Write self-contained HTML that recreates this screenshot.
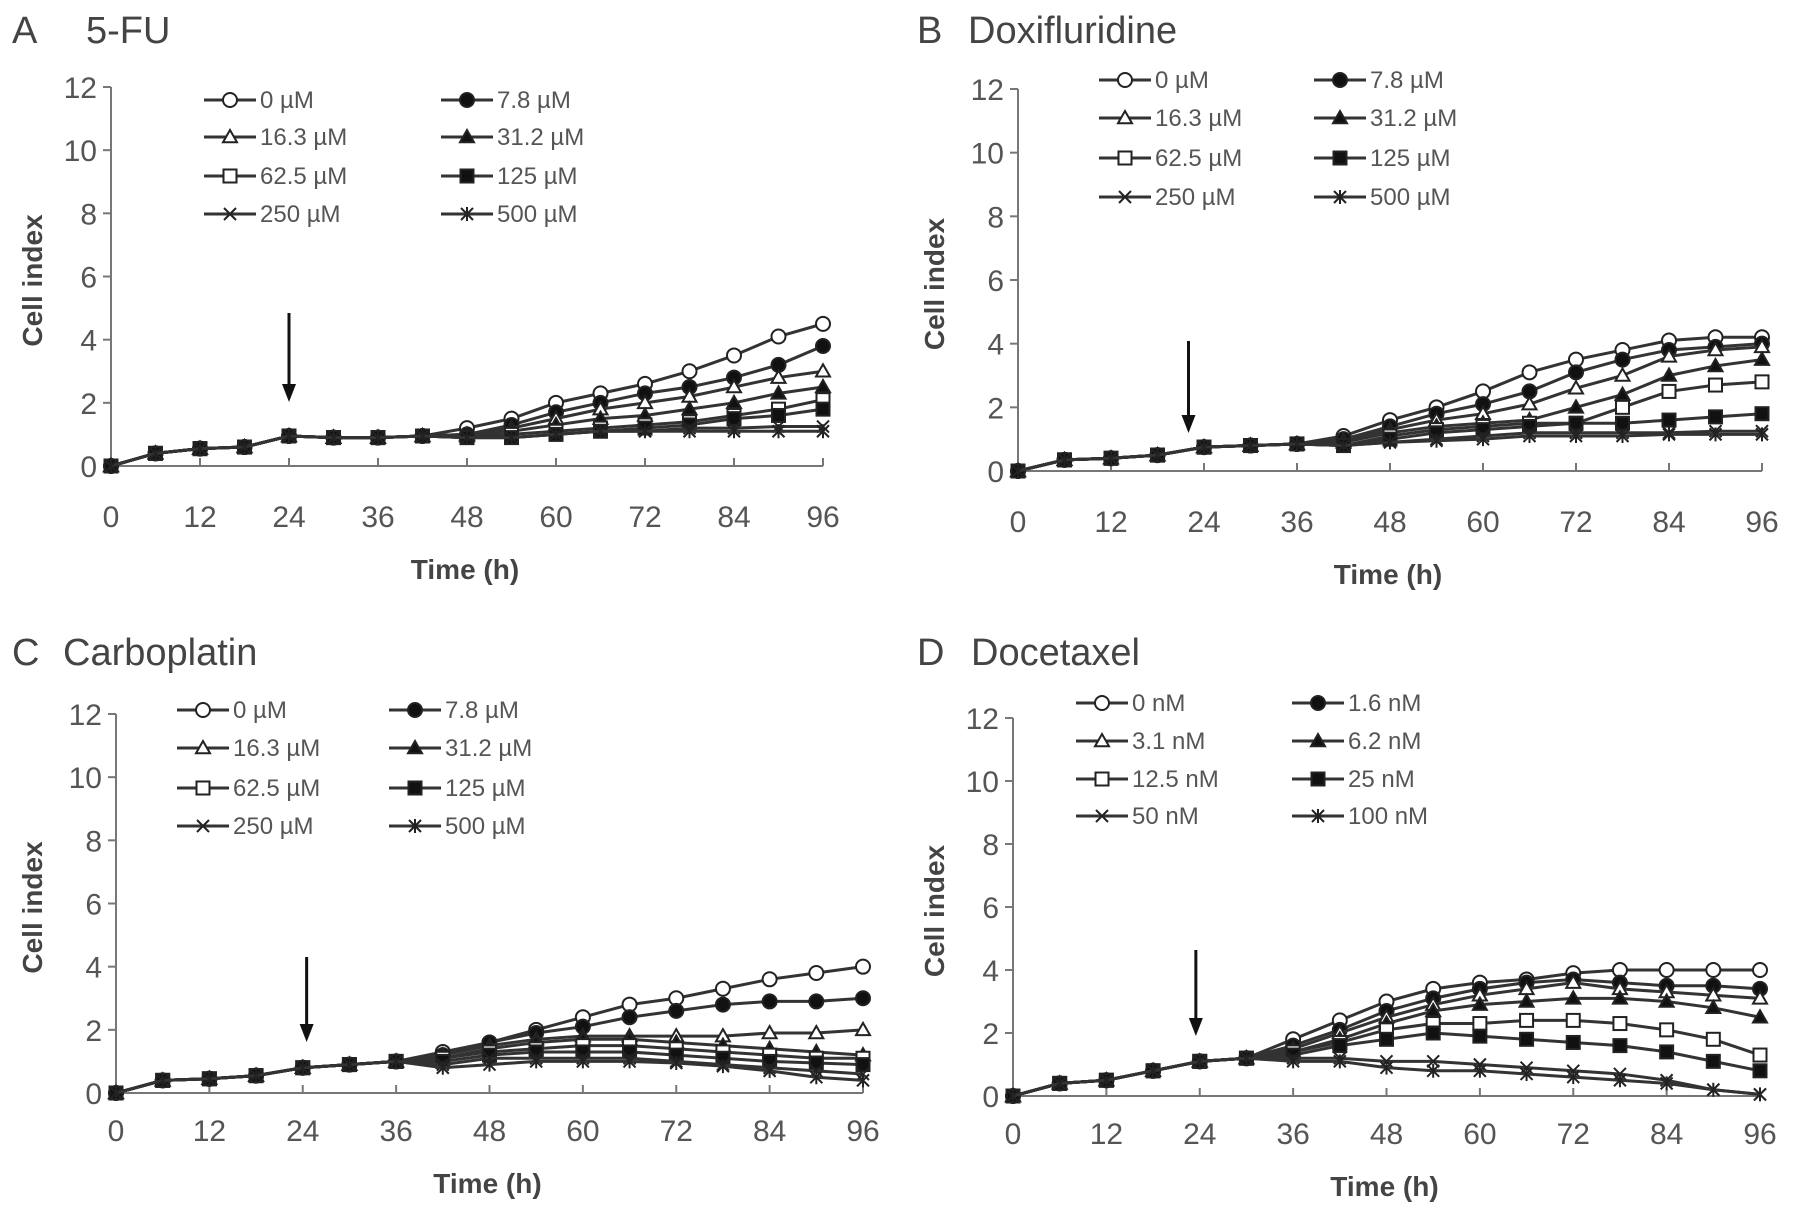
<!DOCTYPE html>
<html><head><meta charset="utf-8"><style>
html,body{margin:0;padding:0;background:#fff;}
svg{display:block;font-family:"Liberation Sans",sans-serif;}
</style></head><body>
<svg id="fig" width="1795" height="1214" viewBox="0 0 1795 1214"></svg>
<script>
const times = [0,6,12,18,24,30,36,42,48,54,60,66,72,78,84,90,96];
const xTicks = [0,12,24,36,48,60,72,84,96];
const yTicks = [0,2,4,6,8,10,12];
const markers = ['oc','fc','ot','ft','os','fs','x','ast'];

const labelsA = ['0 µM','7.8 µM','16.3 µM','31.2 µM','62.5 µM','125 µM','250 µM','500 µM'];
const labelsD = ['0 nM','1.6 nM','3.1 nM','6.2 nM','12.5 nM','25 nM','50 nM','100 nM'];

const earlyA = [0,0.4,0.55,0.6,0.95,0.9,0.9,0.95];
const lateA0 = [1.2,1.5,2.0,2.3,2.6,3.0,3.5,4.1,4.5];
const lateA1 = [1.0,1.3,1.7,2.0,2.3,2.5,2.8,3.2,3.8];
const lateA2 = [1.0,1.2,1.5,1.8,2.0,2.2,2.5,2.8,3.0];
const lateA3 = [0.95,1.1,1.3,1.5,1.6,1.8,2.0,2.3,2.5];
const lateA4 = [0.9,1.0,1.1,1.2,1.3,1.4,1.6,1.8,2.1];
const lateA5 = [0.9,0.9,1.0,1.1,1.2,1.3,1.5,1.6,1.8];
const lateA6 = [0.9,0.9,1.0,1.1,1.1,1.2,1.2,1.25,1.25];
const lateA7 = [0.9,0.9,1.0,1.1,1.1,1.1,1.1,1.1,1.1];

const earlyB = [0,0.35,0.4,0.5,0.75,0.8,0.85];
const lateB0 = [1.1,1.6,2.0,2.5,3.1,3.5,3.8,4.1,4.2,4.2];
const lateB1 = [1.0,1.4,1.8,2.1,2.5,3.1,3.5,3.8,3.9,4.0];
const lateB2 = [0.95,1.3,1.6,1.8,2.1,2.6,3.0,3.6,3.8,3.9];
const lateB3 = [0.9,1.2,1.4,1.5,1.6,2.0,2.4,3.0,3.3,3.5];
const lateB4 = [0.8,1.1,1.3,1.4,1.5,1.5,2.0,2.5,2.7,2.8];
const lateB5 = [0.8,1.0,1.2,1.3,1.4,1.5,1.5,1.6,1.7,1.8];
const lateB6 = [0.8,0.9,1.0,1.1,1.2,1.2,1.2,1.2,1.25,1.25];
const lateB7 = [0.8,0.9,0.95,1.0,1.1,1.1,1.1,1.15,1.15,1.15];

const earlyC = [0,0.4,0.45,0.55,0.8,0.9,1.0];
const lateC0 = [1.3,1.6,2.0,2.4,2.8,3.0,3.3,3.6,3.8,4.0];
const lateC1 = [1.2,1.6,1.9,2.1,2.4,2.6,2.8,2.9,2.9,3.0];
const lateC2 = [1.2,1.5,1.7,1.8,1.8,1.8,1.8,1.9,1.9,2.0];
const lateC3 = [1.1,1.4,1.6,1.7,1.7,1.6,1.5,1.4,1.3,1.2];
const lateC4 = [1.1,1.3,1.4,1.5,1.5,1.4,1.3,1.2,1.1,1.1];
const lateC5 = [1.0,1.2,1.3,1.3,1.3,1.2,1.1,1.0,0.95,0.9];
const lateC6 = [0.9,1.1,1.1,1.1,1.1,1.0,0.9,0.8,0.7,0.6];
const lateC7 = [0.8,0.9,1.0,1.0,1.0,0.95,0.85,0.7,0.5,0.4];

const earlyD = [0,0.4,0.5,0.8,1.1,1.2];
const lateD0 = [1.8,2.4,3.0,3.4,3.6,3.7,3.9,4.0,4.0,4.0,4.0];
const lateD1 = [1.6,2.1,2.7,3.1,3.4,3.6,3.7,3.6,3.5,3.5,3.4];
const lateD2 = [1.5,2.0,2.5,2.9,3.2,3.4,3.6,3.4,3.3,3.2,3.1];
const lateD3 = [1.4,1.8,2.3,2.7,2.9,3.0,3.1,3.1,3.0,2.8,2.5];
const lateD4 = [1.4,1.7,2.1,2.3,2.3,2.4,2.4,2.3,2.1,1.8,1.3];
const lateD5 = [1.3,1.6,1.8,2.0,1.9,1.8,1.7,1.6,1.4,1.1,0.8];
const lateD6 = [1.2,1.2,1.1,1.1,1.0,0.9,0.8,0.7,0.5,0.2,0.05];
const lateD7 = [1.1,1.1,0.9,0.8,0.8,0.7,0.6,0.5,0.4,0.2,0.05];

const NS='http://www.w3.org/2000/svg';
const svg=document.getElementById('fig');
function mk(tag,attrs,parent,text){const e=document.createElementNS(NS,tag);for(const k in attrs)e.setAttribute(k,attrs[k]);if(text!==undefined)e.textContent=text;(parent||svg).appendChild(e);return e;}

function marker(g,type,cx,cy){
  const r=7, st='#222', sw=2;
  let e;
  if(type==='oc'||type==='fc'){e=mk('circle',{cx:cx,cy:cy,r:r,fill:type==='fc'?'#111':'#fff',stroke:st,'stroke-width':sw},g);}
  else if(type==='ot'||type==='ft'){e=mk('polygon',{points:`${cx},${cy-r} ${cx+r},${cy+r*0.75} ${cx-r},${cy+r*0.75}`,fill:type==='ft'?'#111':'#fff',stroke:st,'stroke-width':sw},g);}
  else if(type==='os'||type==='fs'){e=mk('rect',{x:cx-r+0.5,y:cy-r+0.5,width:2*r-1,height:2*r-1,fill:type==='fs'?'#111':'#fff',stroke:st,'stroke-width':sw},g);}
  else {
    e=mk('path',{d:`M${cx-r+1},${cy-r+1}L${cx+r-1},${cy+r-1}M${cx-r+1},${cy+r-1}L${cx+r-1},${cy-r+1}`+(type==='ast'?`M${cx},${cy-r}L${cx},${cy+r}`:''),stroke:st,'stroke-width':sw,fill:'none'},g);
  }
  
  
}

function panel(p){
  const g=mk('g',{});
  
  
  const xs=v=>p.x0+(p.x1-p.x0)*v/96;
  const ys=v=>p.y0-(p.y0-p.y1)*v/12;
  let t=mk('text',{x:p.tx,y:p.ty,'font-size':38,fill:'#444'},g,p.letter);
  
  t=mk('text',{x:p.tx2,y:p.ty,'font-size':38,fill:'#444'},g,p.title);
  
  let a=mk('line',{x1:p.x0,y1:p.y1,x2:p.x0,y2:p.y0,stroke:'#777','stroke-width':2},g);
  
  a=mk('line',{x1:p.x0,y1:p.y0,x2:p.x1,y2:p.y0,stroke:'#777','stroke-width':2},g);
  
  yTicks.forEach(v=>{
    mk('line',{x1:p.x0-8,y1:ys(v),x2:p.x0,y2:ys(v),stroke:'#777','stroke-width':2},g);
    const l=mk('text',{x:p.x0-14,y:ys(v)+11,'font-size':30,fill:'#555','text-anchor':'end'},g,v);
    
  });
  xTicks.forEach(v=>{
    mk('line',{x1:xs(v),y1:p.y0,x2:xs(v),y2:p.y0-8,stroke:'#777','stroke-width':2},g);
    const l=mk('text',{x:xs(v),y:p.y0+p.kOff,'font-size':30,fill:'#555','text-anchor':'middle'},g,v);
    
  });
  t=mk('text',{x:(p.x0+p.x1)/2-2,y:p.y0+p.tOff,'font-size':28,'font-weight':'bold',fill:'#444','text-anchor':'middle'},g,'Time (h)');
  
  const yc=(p.y0+p.y1)/2+4;
  t=mk('text',{x:p.yx,y:yc,'font-size':28,'font-weight':'bold',fill:'#444','text-anchor':'middle',transform:`rotate(-90 ${p.yx} ${yc})`},g,'Cell index');
  
  const ax=xs(p.arrowT);
  const ar=mk('g',{},g);
  
  mk('line',{x1:ax,y1:p.ay1,x2:ax,y2:p.ay2-14,stroke:'#111','stroke-width':3},ar);
  mk('polygon',{points:`${ax-7},${p.ay2-18} ${ax+7},${p.ay2-18} ${ax},${p.ay2}`,fill:'#111'},ar);
  p.series.forEach((s,i)=>{
    const sg=mk('g',{},g);
    
    
    const pts=s.map((v,j)=>[xs(times[j]),ys(v)]);
    mk('polyline',{points:pts.map(q=>q.join(',')).join(' '),fill:'none',stroke:'#333','stroke-width':3},sg);
    pts.forEach(q=>marker(sg,markers[i],q[0],q[1]));
  });
  p.labels.forEach((lab,i)=>{
    const col=i%2,row=Math.floor(i/2);
    const lx=col?p.lc2:p.lc1, ly=p.lrows[row];
    const lg=mk('g',{},g);
    
    mk('line',{x1:lx,y1:ly,x2:lx+52,y2:ly,stroke:'#333','stroke-width':3},lg);
    marker(lg,markers[i],lx+26,ly);
    mk('text',{x:lx+56,y:ly+8,'font-size':24,fill:'#555'},lg,lab);
  });
}

panel({id:'a',letter:'A',title:'5-FU',tx:12,tx2:86,ty:43,x0:111,x1:823,y0:466,y1:87,yx:42,arrowT:24,ay1:313,ay2:402,tOff:113,kOff:61,
  labels:labelsA,lc1:204,lc2:441,lrows:[100,137,176,214],
  series:[lateA0,lateA1,lateA2,lateA3,lateA4,lateA5,lateA6,lateA7].map(l=>earlyA.concat(l))});
panel({id:'b',letter:'B',title:'Doxifluridine',tx:917,tx2:968,ty:43,x0:1018,x1:1762,y0:471,y1:89,yx:944,arrowT:22,ay1:341,ay2:433,tOff:113,kOff:61,
  labels:labelsA,lc1:1099,lc2:1314,lrows:[80,118,158,197],
  series:[lateB0,lateB1,lateB2,lateB3,lateB4,lateB5,lateB6,lateB7].map(l=>earlyB.concat(l))});
panel({id:'c',letter:'C',title:'Carboplatin',tx:12,tx2:63,ty:665,x0:116,x1:863,y0:1093,y1:714,yx:42,arrowT:24.5,ay1:957,ay2:1042,tOff:100,kOff:48,
  labels:labelsA,lc1:177,lc2:389,lrows:[710,748,788,826],
  series:[lateC0,lateC1,lateC2,lateC3,lateC4,lateC5,lateC6,lateC7].map(l=>earlyC.concat(l))});
panel({id:'d',letter:'D',title:'Docetaxel',tx:917,tx2:971,ty:665,x0:1013,x1:1760,y0:1096,y1:718,yx:944,arrowT:23.5,ay1:950,ay2:1036,tOff:100,kOff:48,
  labels:labelsD,lc1:1076,lc2:1292,lrows:[703,741,779,816],
  series:[lateD0,lateD1,lateD2,lateD3,lateD4,lateD5,lateD6,lateD7].map(l=>earlyD.concat(l))});
</script>
</body></html>
